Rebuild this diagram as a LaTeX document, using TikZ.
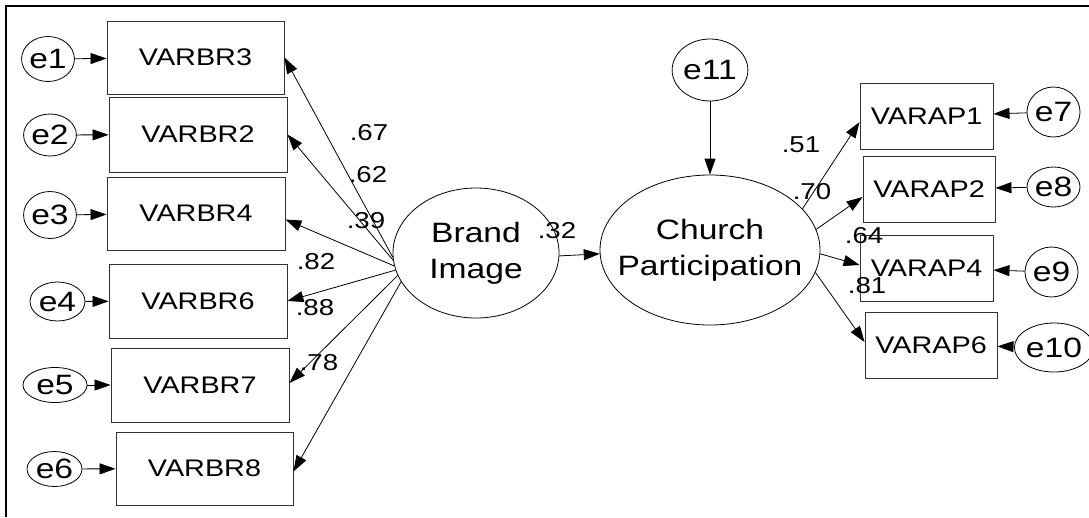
\documentclass[tikz,border=0pt]{standalone}
\usepackage{fontspec}
\setmainfont{Liberation Sans}
\usetikzlibrary{shapes.geometric,arrows.meta}

% horizontally widened lettering
\newcommand\wide[1]{\scalebox{1.2}[1]{#1}}

\tikzset{
  obs/.style={draw=black!80, line width=0.9pt, rectangle, inner sep=0pt,
              font=\fontsize{24}{28}\selectfont},
  err/.style={draw, ellipse, line width=0.8pt, inner sep=0pt,
              font=\fontsize{28}{30}\selectfont},
  lat/.style={draw, ellipse, line width=0.8pt, inner sep=0pt},
  latlbl/.style={align=center, inner sep=0pt, font=\fontsize{28}{36}\selectfont},
  link/.style={line width=0.8pt, -{Triangle[length=16pt,width=11pt]}},
  coef/.style={inner sep=0pt, font=\fontsize{23}{25}\selectfont},
}

\begin{document}
\begin{tikzpicture}[x=1pt,y=-1pt]
\useasboundingbox (0,0) rectangle (1089,517);

% frame
\draw[line width=2.5pt] (6,517) -- (6,6) -- (1089,6);

% Brand Image indicators
\node[obs, minimum width=177pt, minimum height=73pt] (v3) at (195.5,57.5)  {\wide{VARBR3}};
\node[obs, minimum width=178pt, minimum height=75pt] (v2) at (198,134.5)   {\wide{VARBR2}};
\node[obs, minimum width=178pt, minimum height=73pt] (v4) at (196,213.5)   {\wide{VARBR4}};
\node[obs, minimum width=178pt, minimum height=74pt] (v6) at (198,301)     {\wide{VARBR6}};
\node[obs, minimum width=178pt, minimum height=74pt] (v7) at (200,385)     {\wide{VARBR7}};
\node[obs, minimum width=177pt, minimum height=73pt] (v8) at (204.5,468.5) {\wide{VARBR8}};

% their error terms
\node[err, minimum width=52pt, minimum height=45pt] (e1) at (48,59)      {\wide{e1}};
\node[err, minimum width=52pt, minimum height=42pt] (e2) at (50,135)     {\wide{e2}};
\node[err, minimum width=52pt, minimum height=47pt] (e3) at (50,215)     {\wide{e3}};
\node[err, minimum width=55pt, minimum height=39pt] (e4) at (57.5,301.5) {\wide{e4}};
\node[err, minimum width=64pt, minimum height=35pt] (e5) at (55,385)     {\wide{e5}};
\node[err, minimum width=55pt, minimum height=35pt] (e6) at (54.5,469)   {\wide{e6}};

\draw[link] (e1) -- (v3);
\draw[link] (e2) -- (v2);
\draw[link] (e3) -- (v4);
\draw[link] (e4) -- (v6);
\draw[link] (e5) -- (v7);
\draw[link] (e6) -- (v8);

% latent variables
\node[lat, minimum width=166pt, minimum height=130pt,
      label={[latlbl]center:\wide{Brand}\\\wide{Image}}] (BI) at (476,253) {};
\node[lat, minimum width=220pt, minimum height=150pt,
      label={[latlbl]center:\wide{Church}\\\wide{Participation}}] (CP) at (710,250) {};
\node[err, minimum width=66pt, minimum height=62pt] (e11) at (710,70) {\wide{e11}};

% Church Participation indicators
\node[obs, minimum width=133pt, minimum height=66pt] (a1) at (926.5,116) {\wide{VARAP1}};
\node[obs, minimum width=132pt, minimum height=66pt] (a2) at (929,189)   {\wide{VARAP2}};
\node[obs, minimum width=133pt, minimum height=66pt] (a4) at (926.5,268) {\wide{VARAP4}};
\node[obs, minimum width=132pt, minimum height=66pt] (a6) at (931,345)   {\wide{VARAP6}};

\node[err, minimum width=53pt, minimum height=50pt] (e7)  at (1053.5,112) {\wide{e7}};
\node[err, minimum width=53pt, minimum height=40pt] (e8)  at (1053.5,187) {\wide{e8}};
\node[err, minimum width=53pt, minimum height=50pt] (e9)  at (1051.5,272) {\wide{e9}};
\node[err, minimum width=52pt, minimum height=49pt] (e10) at (1054,347.5) {\wide{e10}};

\draw[link] (e7)  -- (a1);
\draw[link] (e8)  -- (a2);
\draw[link] (e9)  -- (a4);
\draw[link] (e10) -- (a6);

% loadings of Brand Image
\draw[link] (BI.183) -- (v3.east);
\draw[link] (BI.185) -- (v2.east);
\draw[link] (BI.189) -- ([yshift=-6pt]v4.east);
\draw[link] (BI.192) -- (v6.east);
\draw[link] (BI.196) -- ([yshift=2pt]v7.east);
\draw[link] (BI.201) -- ([yshift=-3pt]v8.east);

% structural paths
\draw[link] (BI.-2) -- (CP.182);
\draw[link] (e11) -- (CP);

% loadings of Church Participation
\draw[link] (CP.24)  -- ([yshift=-6pt]a1.west);
\draw[link] (CP.11)  -- ([yshift=-8pt]a2.west);
\draw[link] (CP.-2)  -- ([yshift=3pt]a4.west);
\draw[link] (CP.-12) -- ([yshift=3pt]a6.west);

% standardized coefficients
\node[coef] (c67) at (369,133) {\wide{.67}};
\node[coef] (c62) at (368,175) {\wide{.62}};
\node[coef] (c39) at (366,221) {\wide{.39}};
\node[coef] (c82) at (316,262) {\wide{.82}};
\node[coef] (c88) at (315,308) {\wide{.88}};
\node[coef] (c78) at (319,363) {\wide{.78}};
\node[coef] (c32) at (557,231) {\wide{.32}};
\node[coef] (c51) at (801,145) {\wide{.51}};
\node[coef] (c70) at (812,192) {\wide{.70}};
\node[coef] (c64) at (864,236) {\wide{.64}};
\node[coef] (c81) at (867,286) {\wide{.81}};
\end{tikzpicture}
\end{document}
